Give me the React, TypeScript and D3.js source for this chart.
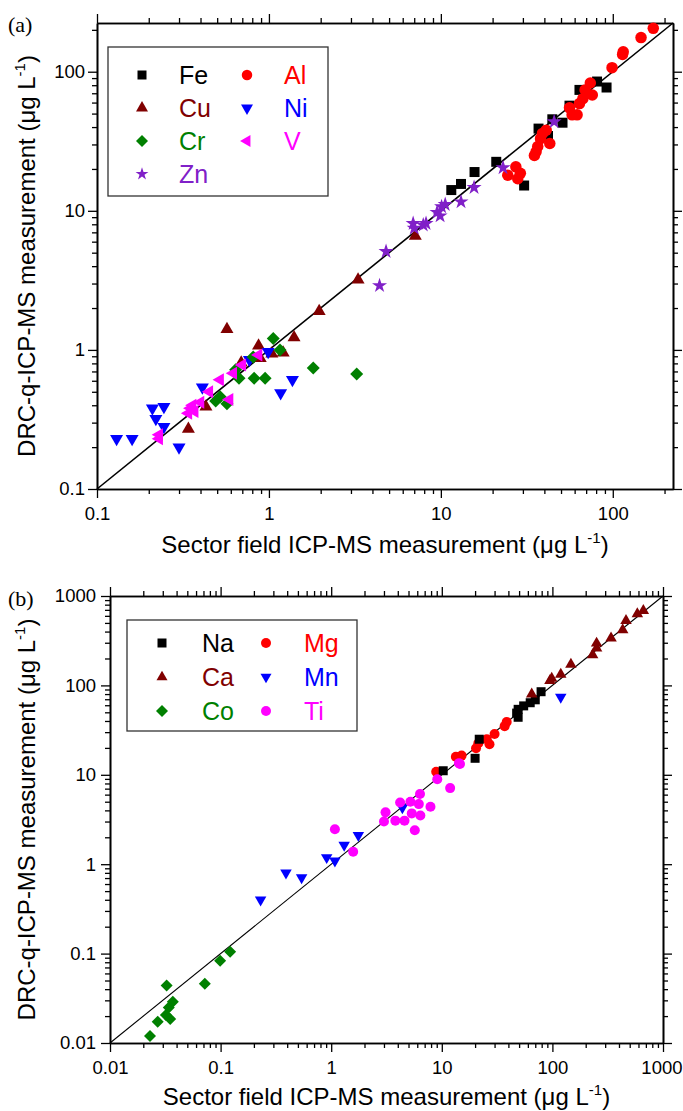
import React, { useEffect, useRef } from "react";
import * as d3 from "d3";

// values in µg/L, [sector field, DRC-q] pairs
// panel (a)
const fe = [[81, 85], [92, 77], [64, 74], [56, 57], [51, 43], [44.5, 45.5], [37, 39], [42, 34.5], [21, 22.5], [15.7, 19], [13.1, 15.6], [11.5, 14.1], [30.5, 15.2]];
const al = [[172, 205], [146, 176], [115, 139], [114, 133], [99, 107], [74, 83], [69, 74], [76, 68], [67, 64], [64, 59], [56, 55], [58, 49], [62, 49], [41, 38], [39, 36], [38, 33], [43, 30.5], [36.6, 29], [35.8, 26.6], [35, 25], [27.3, 20.7], [24.5, 18], [29, 18.6], [28, 17]];
const cu = [[7.1, 6.6], [3.3, 3.2], [1.96, 1.9], [1.4, 1.23], [0.57, 1.41], [0.87, 1.07], [1.04, 0.94], [1.21, 0.955], [0.89, 0.87], [0.69, 0.81], [0.43, 0.39], [0.34, 0.27]];
const ni = [[0.99, 0.97], [0.77, 0.85], [1.37, 0.61], [1.17, 0.49], [0.41, 0.54], [0.21, 0.38], [0.245, 0.39], [0.22, 0.32], [0.245, 0.28], [0.13, 0.23], [0.16, 0.23], [0.3, 0.2]];
const cr = [[1.06, 1.21], [1.16, 1.0], [0.81, 0.89], [0.67, 0.625], [0.82, 0.625], [0.95, 0.625], [1.81, 0.74], [3.24, 0.67], [0.64, 0.72], [0.52, 0.46], [0.49, 0.43], [0.57, 0.41]];
const v = [[0.87, 0.92], [0.7, 0.78], [0.62, 0.68], [0.52, 0.61], [0.45, 0.5], [0.59, 0.44], [0.4, 0.42], [0.36, 0.4], [0.35, 0.38], [0.37, 0.36], [0.34, 0.35], [0.23, 0.245], [0.23, 0.23]];
const zn = [[45.6, 43.7], [23, 20.4], [15.6, 14.7], [13.1, 11.6], [10.6, 11.1], [10.1, 10.7], [9.5, 9.75], [9.9, 9.2], [8.2, 8.1], [7.9, 7.9], [6.9, 8.1], [7.0, 7.5], [4.8, 5.1], [4.4, 2.9]];

// panel (b)
const na = [[79, 85], [70, 69], [63, 64], [55, 59], [49, 54], [47.5, 49], [49, 44], [21.8, 25], [20, 15.3], [10.3, 11.1]];
const mg = [[38.6, 39], [37, 35], [30, 28.6], [25.5, 25], [27, 22], [21.4, 22.5], [20.4, 19.8], [15.1, 16.4], [13.4, 15.9], [8.9, 10.8]];
const ca = [[664, 685], [586, 629], [463, 530], [432, 417], [339, 337], [251, 296], [251, 260], [231, 219], [147, 172], [119, 133], [98.6, 120], [95, 113], [65, 80]];
const mn = [[119, 74], [1.76, 2.1], [1.31, 1.64], [0.91, 1.19], [1.08, 1.09], [0.39, 0.8], [0.54, 0.71], [0.23, 0.4], [4.4, 4.3]];
const co = [[0.122, 0.105], [0.099, 0.083], [0.072, 0.046], [0.0325, 0.044], [0.037, 0.029], [0.034, 0.025], [0.032, 0.0206], [0.035, 0.0186], [0.027, 0.0173], [0.023, 0.012]];
const ti = [[14.6, 13.2], [14.3, 13.5], [9.1, 8.9], [11.9, 7.1], [6.35, 6.1], [5.2, 5.0], [4.2, 4.9], [6.2, 4.7], [7.9, 4.4], [3.1, 3.8], [5.35, 3.7], [6.4, 3.5], [3.0, 3.0], [3.8, 3.07], [4.6, 3.07], [5.7, 2.4], [1.08, 2.46], [1.58, 1.38]];

const xTitle = "Sector field ICP-MS measurement (\u03bcg L";
const yTitle = "DRC-q-ICP-MS measurement (\u03bcg L";

const FONT = "'Liberation Sans', Arial, sans-serif";

// draw order follows the overlap seen in the figure
const seriesA = [
  { name: "Fe", color: "#000000", shape: "square", data: fe },
  { name: "Al", color: "#ff0000", shape: "circle", data: al },
  { name: "Cu", color: "#800000", shape: "up", data: cu },
  { name: "Ni", color: "#0000ff", shape: "down", data: ni },
  { name: "Cr", color: "#008000", shape: "diamond", data: cr },
  { name: "V", color: "#ff00ff", shape: "left", data: v },
  { name: "Zn", color: "#8020c8", shape: "star", data: zn },
];
const legendA = ["Fe", "Cu", "Cr", "Zn", "Al", "Ni", "V"];

const seriesB = [
  { name: "Mg", color: "#ff0000", shape: "circle", data: mg },
  { name: "Na", color: "#000000", shape: "square", data: na },
  { name: "Ca", color: "#800000", shape: "up", data: ca },
  { name: "Mn", color: "#0000ff", shape: "down", data: mn },
  { name: "Co", color: "#008000", shape: "diamond", data: co },
  { name: "Ti", color: "#ff00ff", shape: "circle", data: ti },
];
const legendB = ["Na", "Ca", "Co", "Mg", "Mn", "Ti"];

function symbolPath(shape: string, w: number) {
  const s = d3.symbol();
  if (shape === "square") return { d: s.type(d3.symbolSquare).size(w * w)(), rot: 0 };
  if (shape === "circle") return { d: s.type(d3.symbolCircle).size((Math.PI * w * w) / 4)(), rot: 0 };
  if (shape === "diamond") return { d: s.type(d3.symbolSquare).size((w * w) / 2)(), rot: 45 };
  if (shape === "star") return { d: s.type(d3.symbolStar).size(w * w * 0.36)(), rot: 0 };
  const tri = s.type(d3.symbolTriangle).size((Math.sqrt(3) / 4) * w * w)();
  if (shape === "down") return { d: tri, rot: 180 };
  if (shape === "left") return { d: tri, rot: -90 };
  return { d: tri, rot: 0 };
}

function drawPanel(svg: any, cfg: any) {
  const x = d3.scaleLog().domain(cfg.domain).range([cfg.left, cfg.right]);
  const y = d3.scaleLog().domain(cfg.domain).range([cfg.bottom, cfg.top]);
  const g = svg.append("g");

  const all = x.ticks();
  const majors = all.filter((t: number) => Math.abs(Math.log10(t) - Math.round(Math.log10(t))) < 1e-9);
  const minors = all.filter((t: number) => !majors.includes(t));
  const fmt = (t: any) => String(+t);

  const put = (axis: any, tx: number, ty: number, labels: boolean) => {
    const a = g.append("g").attr("transform", `translate(${tx},${ty})`).call(axis);
    a.selectAll("line").attr("stroke", "#000").attr("stroke-width", 1.3);
    a.select(".domain").attr("stroke", "#000").attr("stroke-width", 1.6);
    a.selectAll("text").attr("font-family", FONT).attr("font-size", 18.5).attr("fill", "#000");
    if (!labels) a.selectAll("text").remove();
    return a;
  };
  const mk = (f: any, sc: any, vals: number[], size: number, pad: number) =>
    f(sc).tickValues(vals).tickSize(size).tickPadding(pad).tickSizeOuter(0).tickFormat(fmt);

  put(mk(d3.axisBottom, x, minors, 5, 0), 0, cfg.bottom, false);
  const bx = put(mk(d3.axisBottom, x, majors, 9, 9), 0, cfg.bottom, true);
  // keep the last label inside the page edge
  bx.selectAll("text").filter((t: number) => x(t) + 22 > 683).attr("text-anchor", "end").attr("dx", 682 - x(cfg.domain[1]));
  put(mk(d3.axisTop, x, minors, 5, 0), 0, cfg.top, false);
  put(mk(d3.axisTop, x, majors, 9, 0), 0, cfg.top, false);
  put(mk(d3.axisLeft, y, minors, 5, 0), cfg.left, 0, false);
  put(mk(d3.axisLeft, y, majors, 9, cfg.ypad), cfg.left, 0, true);
  put(mk(d3.axisRight, y, minors, 5, 0), cfg.right, 0, false);
  put(mk(d3.axisRight, y, majors, 9, 0), cfg.right, 0, false);

  // 1:1 line
  g.append("line")
    .attr("x1", x(cfg.domain[0])).attr("y1", y(cfg.domain[0]))
    .attr("x2", x(cfg.domain[1])).attr("y2", y(cfg.domain[1]))
    .attr("stroke", "#000").attr("stroke-width", cfg.lineW);

  cfg.series.forEach((s: any) => {
    const sym = symbolPath(s.shape, cfg.sizes[s.shape]);
    g.append("g").selectAll("path").data(s.data).join("path")
      .attr("d", sym.d)
      .attr("transform", (d: number[]) => `translate(${x(d[0])},${y(d[1])}) rotate(${sym.rot})`)
      .attr("fill", s.color);
  });

  // legend
  const L = cfg.legend;
  g.append("rect").attr("x", L.x).attr("y", L.y).attr("width", L.w).attr("height", L.h)
    .attr("fill", "#fff").attr("stroke", "#333").attr("stroke-width", 1.3);
  cfg.legendOrder.forEach((name: string, i: number) => {
    const s = cfg.series.find((q: any) => q.name === name);
    const col = i < L.perCol ? 0 : 1;
    const row = i % L.perCol;
    const cy = L.row0 + row * L.rowStep;
    const sym = symbolPath(s.shape, L.sizes[s.shape]);
    g.append("path").attr("d", sym.d)
      .attr("transform", `translate(${L.symX[col]},${cy}) rotate(${sym.rot})`)
      .attr("fill", s.color);
    g.append("text").attr("x", L.txtX[col]).attr("y", cy + 9)
      .attr("font-family", FONT).attr("font-size", 25).attr("fill", s.color).text(name);
  });

  // axis titles
  const cx = (cfg.left + cfg.right) / 2;
  const xt = g.append("text").attr("x", cx).attr("y", cfg.bottom + cfg.xTitleOff)
    .attr("text-anchor", "middle").attr("font-family", FONT).attr("font-size", 24);
  xt.append("tspan").text(xTitle);
  xt.append("tspan").attr("font-size", 15).attr("dy", -10).text("-1");
  xt.append("tspan").attr("dy", 10).text(")");

  const cyMid = (cfg.top + cfg.bottom) / 2;
  const yt = g.append("text").attr("transform", `translate(35,${cyMid}) rotate(-90)`)
    .attr("text-anchor", "middle").attr("font-family", FONT).attr("font-size", 24);
  yt.append("tspan").text(yTitle);
  yt.append("tspan").attr("font-size", 15).attr("dy", -10).text("-1");
  yt.append("tspan").attr("dy", 10).text(")");

  g.append("text").attr("x", 8).attr("y", cfg.top + cfg.tagOff)
    .attr("font-family", "'Liberation Serif', 'Times New Roman', serif").attr("font-size", 22)
    .text(cfg.tag);
}

export default function App() {
  const ref = useRef<SVGSVGElement>(null);

  useEffect(() => {
    const svg = d3.select(ref.current);
    svg.selectAll("*").remove();

    drawPanel(svg, {
      domain: [0.1, 224], left: 97, right: 673, top: 23, bottom: 489,
      ypad: 3, lineW: 1.6, xTitleOff: 64, tagOff: 9, tag: "(a)",
      series: seriesA, legendOrder: legendA,
      sizes: { square: 10, circle: 11.5, up: 13, down: 13, left: 13, diamond: 13, star: 14 },
      legend: {
        x: 108, y: 47, w: 220, h: 149, perCol: 4, row0: 75, rowStep: 33,
        symX: [142, 247], txtX: [179, 284],
        sizes: { square: 9, circle: 10.5, up: 12, down: 12, left: 12, diamond: 12, star: 12 },
      },
    });

    drawPanel(svg, {
      domain: [0.01, 1000], left: 110, right: 663, top: 596, bottom: 1043,
      ypad: 5, lineW: 1.1, xTitleOff: 62, tagOff: 10, tag: "(b)",
      series: seriesB, legendOrder: legendB,
      sizes: { square: 9, circle: 10, up: 11.5, down: 11.5, left: 11.5, diamond: 12, star: 12 },
      legend: {
        x: 127, y: 620, w: 230, h: 111, perCol: 3, row0: 643, rowStep: 34,
        symX: [162, 266], txtX: [202, 304],
        sizes: { square: 9, circle: 10, up: 11, down: 11, left: 11, diamond: 12, star: 12 },
      },
    });
  }, []);

  return (
    <svg
      ref={ref}
      width={683}
      height={1111}
      style={{ position: "absolute", left: 0, top: 0, background: "#fff" }}
    />
  );
}
